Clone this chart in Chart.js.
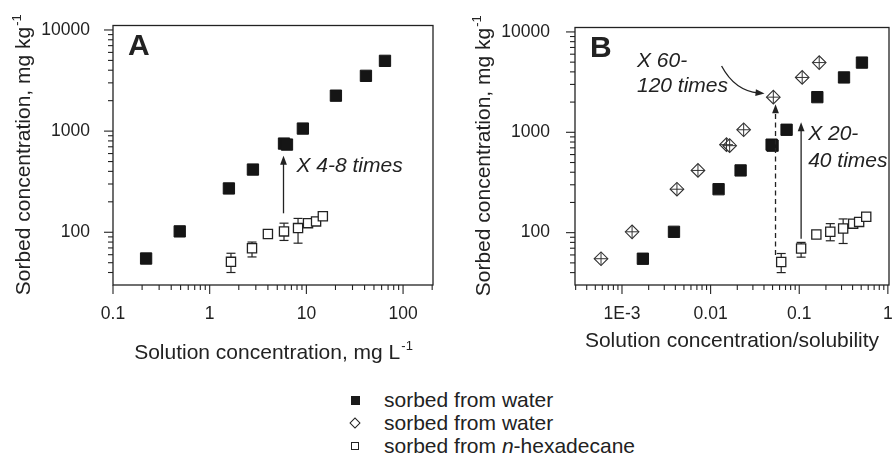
<!DOCTYPE html>
<html><head><meta charset="utf-8">
<script src="https://cdn.jsdelivr.net/npm/chart.js@4.4.1/dist/chart.umd.min.js"></script>
<style>
html,body{margin:0;padding:0;background:#fff;overflow:hidden;}
#wrap{position:relative;width:892px;height:457px;overflow:hidden;font-family:"Liberation Sans",Arial,Helvetica,sans-serif;color:#222;}
#cA{position:absolute;left:0;top:0;}
#cB{position:absolute;left:446px;top:0;}
.leg{position:absolute;left:384px;font-size:21px;line-height:24px;height:24px;white-space:nowrap;}
.mk{position:absolute;box-sizing:border-box;}
</style></head>
<body><div id="wrap">
<canvas id="cA" width="446" height="370"></canvas>
<canvas id="cB" width="460" height="370"></canvas>
<div class="mk" style="left:351px;top:396px;width:9px;height:9px;background:#1a1a1a;"></div>
<div class="leg" style="top:388px;">sorbed from water</div>
<div class="mk" style="left:351px;top:419px;width:8px;height:8px;border:1.2px solid #222;transform:rotate(45deg);"></div>
<div class="leg" style="top:411px;">sorbed from water</div>
<div class="mk" style="left:351px;top:442px;width:8px;height:8px;border:1.2px solid #222;"></div>
<div class="leg" style="top:434px;">sorbed from <i>n</i>-hexadecane</div>
</div>
<script>
// ---------- data ----------
const waterY   = [55, 102, 271, 417, 753, 736, 1060, 2240, 3520, 4950];
const waterXA  = [0.22, 0.49, 1.58, 2.8, 5.87, 6.3, 9.2, 20.2, 41.3, 65];
const waterXB  = [0.00172, 0.00386, 0.0123, 0.0218, 0.0488, 0.050, 0.072, 0.16, 0.32, 0.51];
const diamondY = [55, 102, 271, 417, 753, 736, 1060, 2240, 3520, 4950];
const diamondXB = [0.00058, 0.0013, 0.00417, 0.0072, 0.0151, 0.0164, 0.0236, 0.051, 0.108, 0.168];
const hexY     = [51, 69.5, 96, 102, 110, 123, 128, 144];
const hexErrHi = [62, 80, 99, 123, 137, 129, 133, 150];
const hexErrLo = [40, 57, 93, 83, 78, 117, 123, 138];
const hexXA    = [1.66, 2.74, 4.0, 5.87, 8.2, 10.4, 12.6, 14.8];
const hexXB    = [0.0626, 0.105, 0.156, 0.224, 0.313, 0.406, 0.474, 0.57];

const xTicksA  = [0.1, 1, 10, 100];
const xLabelsA = ['0.1', '1', '10', '100'];
const xTicksB  = [0.001, 0.01, 0.1, 1];
const xLabelsB = ['1E-3', '0.01', '0.1', '1'];
const yTicks   = [100, 1000, 10000];
const yLabels  = ['100', '1000', '10000'];

const FONT = '"Liberation Sans", Arial, Helvetica, sans-serif';
const INK = '#222';

function pts(xs, ys){ return xs.map((x,i)=>({x:x, y:ys[i]})); }

function line(ctx,x0,y0,x1,y1){ ctx.beginPath(); ctx.moveTo(x0,y0); ctx.lineTo(x1,y1); ctx.stroke(); }

function head(ctx, x, y, ang){
  const L=9, W=3.4;
  ctx.save(); ctx.translate(x,y); ctx.rotate(ang);
  ctx.beginPath(); ctx.moveTo(0,0); ctx.lineTo(-L,-W); ctx.lineTo(-L,W); ctx.closePath(); ctx.fill();
  ctx.restore();
}

function drawTitle(ctx, main, sup, center, base, rotated){
  ctx.save();
  ctx.fillStyle = INK;
  ctx.textBaseline = 'alphabetic';
  ctx.textAlign = 'left';
  ctx.font = '21px ' + FONT;
  const wm = ctx.measureText(main).width;
  ctx.font = '13px ' + FONT;
  const ws = ctx.measureText(sup).width;
  const start = -(wm + ws) / 2;
  if (rotated){ ctx.translate(base, center); ctx.rotate(-Math.PI/2); }
  else { ctx.translate(center, base); }
  ctx.font = '21px ' + FONT;
  ctx.fillText(main, start, 0);
  ctx.font = '13px ' + FONT;
  ctx.fillText(sup, start + wm + 1, -9);
  ctx.restore();
}

function makePanel(id, p){
  const deco = {
    id: 'deco' + id,
    beforeDatasetsDraw(chart){
      const {ctx, scales:{x, y}} = chart;
      ctx.save(); ctx.strokeStyle = INK; ctx.lineWidth = 1.2;
      p.errX.forEach((xv,i)=>{
        const px = x.getPixelForValue(xv);
        const hi = y.getPixelForValue(hexErrHi[i]), lo = y.getPixelForValue(hexErrLo[i]);
        line(ctx, px, hi, px, lo);
        line(ctx, px-4.5, hi, px+4.5, hi);
        line(ctx, px-4.5, lo, px+4.5, lo);
      });
      ctx.restore();
    },
    afterDraw(chart){
      const {ctx, chartArea:ca, scales:{x, y}} = chart;
      ctx.save();
      ctx.strokeStyle = INK; ctx.fillStyle = INK; ctx.lineWidth = 1.3;
      ctx.strokeRect(ca.left, ca.top, ca.right-ca.left, ca.bottom-ca.top);
      // log ticks
      ctx.lineWidth = 1.1;
      for (let e=Math.floor(Math.log10(x.min)); e<=Math.ceil(Math.log10(x.max)); e++){
        for (let m=1; m<10; m++){
          const v = m*Math.pow(10,e);
          if (v < x.min*0.999 || v > x.max*1.001) continue;
          const px = x.getPixelForValue(v);
          line(ctx, px, ca.bottom, px, ca.bottom + (m===1?9:5));
        }
      }
      for (let e=Math.floor(Math.log10(y.min)); e<=Math.ceil(Math.log10(y.max)); e++){
        for (let m=1; m<10; m++){
          const v = m*Math.pow(10,e);
          if (v < y.min*0.999 || v > y.max*1.001) continue;
          const py = y.getPixelForValue(v);
          line(ctx, ca.left, py, ca.left - (m===1?9:5), py);
        }
      }
      // panel letter
      ctx.font = 'bold 30px ' + FONT; ctx.textBaseline = 'alphabetic'; ctx.textAlign='left';
      ctx.fillText(p.letter, ca.left + 15, ca.top + 29);
      // titles
      drawTitle(ctx, p.xTitle, p.xSup, (ca.left+ca.right)/2, p.xTitleBase, false);
      drawTitle(ctx, 'Sorbed concentration, mg kg', '-1', (ca.top+ca.bottom)/2, ca.left - p.yTitleOff, true);
      // arrows
      ctx.lineWidth = 1.3;
      p.arrows.forEach(a=>{
        const px = x.getPixelForValue(a.x);
        const p0 = y.getPixelForValue(a.y0), p1 = y.getPixelForValue(a.y1);
        ctx.setLineDash(a.dash ? [5,3.5] : []);
        line(ctx, px, p0, px, p1 + 6);
        ctx.setLineDash([]);
        head(ctx, px, p1, -Math.PI/2);
      });
      if (p.curve){
        const c = p.curve;
        const x0 = x.getPixelForValue(c.x0), y0 = y.getPixelForValue(c.y0);
        const cx = x.getPixelForValue(c.cx), cy = y.getPixelForValue(c.cy);
        const x1 = x.getPixelForValue(c.x1), y1 = y.getPixelForValue(c.y1);
        const ang = Math.atan2(y1-cy, x1-cx);
        ctx.beginPath(); ctx.moveTo(x0,y0);
        ctx.quadraticCurveTo(cx, cy, x1 - 6*Math.cos(ang), y1 - 6*Math.sin(ang));
        ctx.stroke();
        head(ctx, x1, y1, ang);
      }
      ctx.font = 'italic 21px ' + FONT; ctx.textBaseline = 'middle'; ctx.textAlign = 'left';
      p.texts.forEach(t=>{
        ctx.fillText(t.t, x.getPixelForValue(t.x), y.getPixelForValue(t.y));
      });
      ctx.restore();
    }
  };

  return new Chart(document.getElementById(id), {
    type: 'scatter',
    data: { datasets: p.datasets },
    options: {
      responsive: false, animation: false, events: [],
      layout: { padding: { left: 0, right: p.padR, top: 24, bottom: 0 } },
      plugins: { legend: { display: false }, tooltip: { enabled: false } },
      scales: {
        x: {
          type: 'logarithmic', position: 'bottom', min: p.xmin, max: p.xmax,
          afterBuildTicks: s => { s.ticks = p.xTicks.map(v => ({ value: v, major: true })); },
          afterFit: s => { s.height = 85; },
          ticks: { callback: (v, i) => p.xLabels[i], font: { family: FONT, size: 17.5 }, color: INK,
                   padding: 11, maxRotation: 0, autoSkip: false },
          grid: { display: false }, border: { display: false }
        },
        y: {
          type: 'logarithmic', position: 'left', min: 30.1, max: 11070,
          afterBuildTicks: s => { s.ticks = yTicks.map(v => ({ value: v, major: true })); },
          afterFit: s => { s.width = p.yAxisW; },
          ticks: { callback: (v, i) => yLabels[i], font: { family: FONT, size: 17.5 }, color: INK,
                   padding: p.yPad, autoSkip: false },
          grid: { display: false }, border: { display: false }
        }
      }
    },
    plugins: [deco]
  });
}

const filledStyle = { pointStyle: 'rect', pointRadius: 8, backgroundColor: '#151515', borderColor: '#151515', borderWidth: 1, showLine: false };
const openStyle   = { pointStyle: 'rect', pointRadius: 6.5, backgroundColor: '#ffffff', borderColor: '#222', borderWidth: 1.3, showLine: false };

makePanel('cA', {
  letter: 'A', xmin: 0.1, xmax: 204, xTicks: xTicksA, xLabels: xLabelsA,
  yAxisW: 113, yPad: 15, padR: 13, yTitleOff: 83, xTitleBase: 359,
  xTitle: 'Solution concentration, mg L', xSup: '-1',
  errX: hexXA,
  datasets: [
    Object.assign({ label: 'sorbed from water', data: pts(waterXA, waterY) }, filledStyle),
    Object.assign({ label: 'sorbed from n-hexadecane', data: pts(hexXA, hexY) }, openStyle)
  ],
  arrows: [ { x: 5.8, y0: 154, y1: 571, dash: false } ],
  texts: [ { x: 7.9, y: 446, t: 'X 4-8 times' } ]
});

makePanel('cB', {
  letter: 'B', xmin: 0.000295, xmax: 1.03, xTicks: xTicksB, xLabels: xLabelsB,
  yAxisW: 129, yPad: 17, padR: 17, yTitleOff: 85, xTitleBase: 347,
  xTitle: 'Solution concentration/solubility', xSup: '',
  errX: hexXB,
  datasets: [
    { label: 'cross', data: pts(diamondXB, diamondY), pointStyle: 'cross', pointRadius: 6.5,
      borderColor: '#333', borderWidth: 1, showLine: false },
    { label: 'sorbed from water (diamond)', data: pts(diamondXB, diamondY), pointStyle: 'rectRot', pointRadius: 6.8,
      backgroundColor: '#ffffff', borderColor: '#333', borderWidth: 1.1, showLine: false },
    Object.assign({ label: 'sorbed from water', data: pts(waterXB, waterY) }, filledStyle),
    Object.assign({ label: 'sorbed from n-hexadecane', data: pts(hexXB, hexY) }, openStyle)
  ],
  arrows: [ { x: 0.054, y0: 60, y1: 1900, dash: true }, { x: 0.105, y0: 87, y1: 1260, dash: false } ],
  curve: { x0: 0.0133, y0: 4580, cx: 0.0187, cy: 2600, x1: 0.0406, y1: 2430 },
  texts: [ { x: 0.001476, y: 5130, t: 'X 60-' }, { x: 0.001476, y: 2910, t: '120 times' },
           { x: 0.126, y: 961, t: 'X 20-' }, { x: 0.126, y: 511, t: '40 times' } ]
});
</script>
</body></html>
